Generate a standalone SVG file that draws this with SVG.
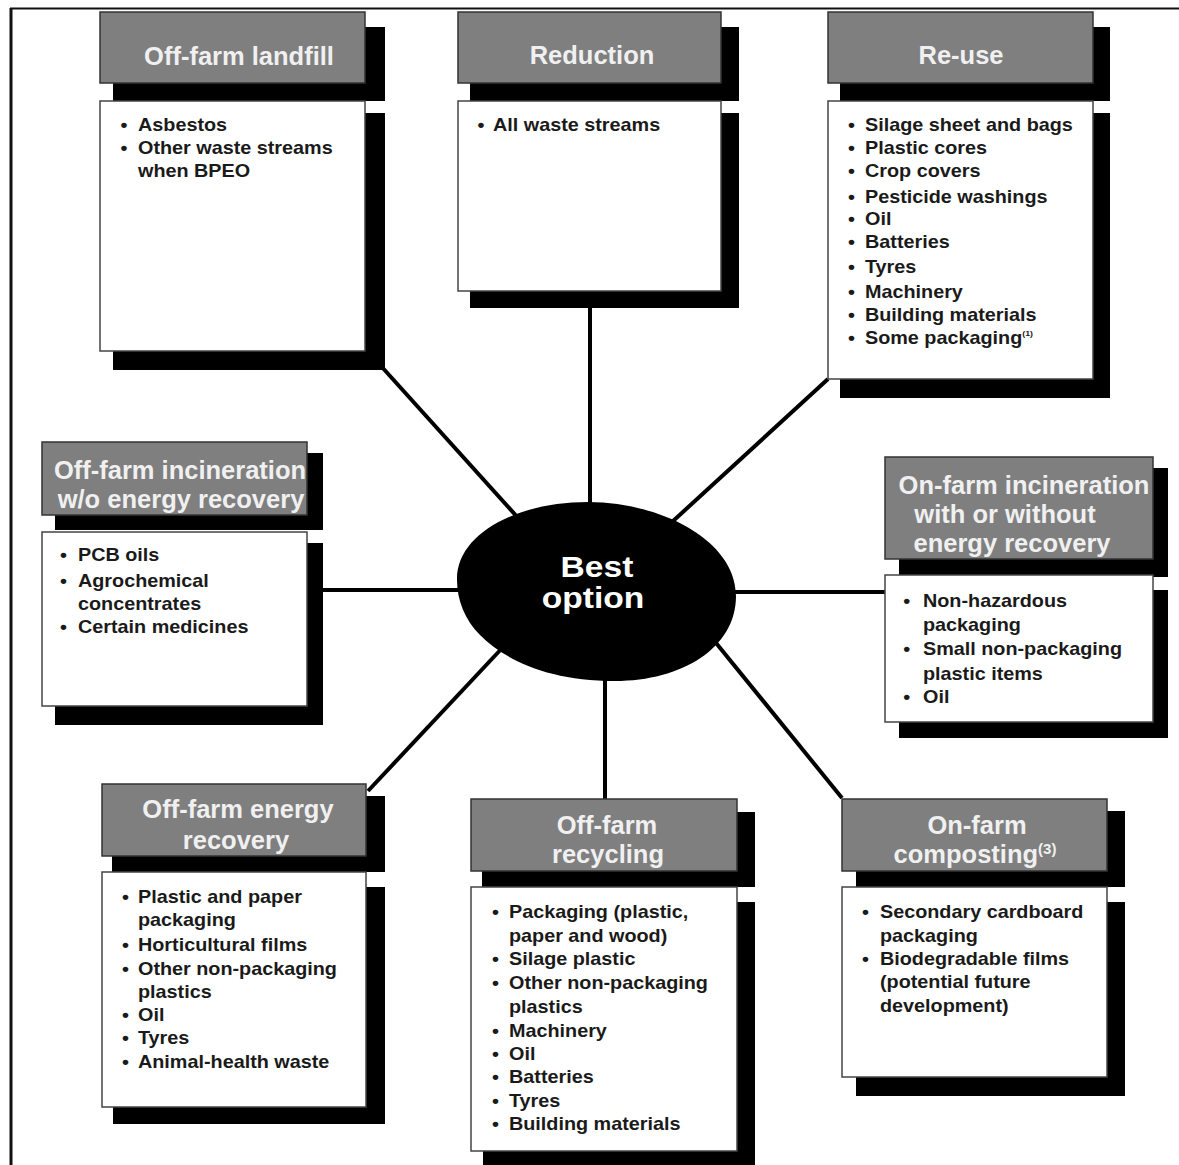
<svg xmlns="http://www.w3.org/2000/svg" width="1179" height="1165" viewBox="0 0 1179 1165">
<style>
.sh{fill:#000}
.hd{fill:#7f7f7f;stroke:#333;stroke-width:1.5}
.bd{fill:#fff;stroke:#444;stroke-width:1.5}
.ht{font-family:"Liberation Sans",Arial,sans-serif;font-weight:bold;font-size:25.5px;fill:#f0f0f0;text-anchor:middle}
.bt{font-family:"Liberation Sans",Arial,sans-serif;font-weight:bold;font-size:18px;fill:#1a1a1a}
.cn{stroke:#000;stroke-width:4;fill:none}
.fr{stroke:#111;fill:none}
</style>
<rect width="1179" height="1165" fill="#fff"/>
<g id="frame">
<line class="fr" x1="10" y1="8.5" x2="1179" y2="8.5" stroke-width="2"/>
<line class="fr" x1="11" y1="8" x2="11" y2="1165" stroke-width="3"/>
</g>
<g id="connectors">
<line class="cn" x1="381" y1="366" x2="520" y2="520"/>
<line class="cn" x1="590" y1="306" x2="590" y2="510"/>
<line class="cn" x1="828" y1="379" x2="672" y2="522"/>
<line class="cn" x1="323" y1="590" x2="462" y2="590"/>
<line class="cn" x1="730" y1="592" x2="885" y2="592"/>
<line class="cn" x1="505" y1="645" x2="368" y2="791"/>
<line class="cn" x1="605" y1="670" x2="605" y2="799"/>
<line class="cn" x1="712" y1="638" x2="842" y2="798"/>
</g>
<g id="landfill">
<rect class="sh" x="113" y="27" width="272" height="74"/>
<rect class="sh" x="113" y="113" width="272" height="257"/>
<rect class="hd" x="100" y="12" width="265" height="71"/>
<rect class="bd" x="100" y="101" width="265" height="250"/>
<text class="ht" x="239" y="65">Off-farm landfill</text>
<g class="bt" transform="translate(138 0) scale(1.1 1)">
<text x="-16" y="131">•</text><text x="0" y="131">Asbestos</text>
<text x="-16" y="154">•</text><text x="0" y="154">Other waste streams</text>
<text x="0" y="177">when BPEO</text>
</g>
</g>
<g id="reduction">
<rect class="sh" x="470" y="27" width="269" height="74"/>
<rect class="sh" x="470" y="113" width="269" height="195"/>
<rect class="hd" x="458" y="12" width="263" height="71"/>
<rect class="bd" x="458" y="101" width="263" height="190"/>
<text class="ht" x="592" y="64">Reduction</text>
<g class="bt" transform="translate(493 0) scale(1.1 1)">
<text x="-14" y="131">•</text><text x="0" y="131">All waste streams</text>
</g>
</g>
<g id="reuse">
<rect class="sh" x="840" y="27" width="270" height="74"/>
<rect class="sh" x="840" y="113" width="270" height="285"/>
<rect class="hd" x="828" y="12" width="265" height="71"/>
<rect class="bd" x="828" y="101" width="265" height="278"/>
<text class="ht" x="961" y="64">Re-use</text>
<g class="bt" transform="translate(865 0) scale(1.1 1)">
<text x="-15.5" y="131">•</text><text x="0" y="131">Silage sheet and bags</text>
<text x="-15.5" y="154">•</text><text x="0" y="154">Plastic cores</text>
<text x="-15.5" y="177">•</text><text x="0" y="177">Crop covers</text>
<text x="-15.5" y="203">•</text><text x="0" y="203">Pesticide washings</text>
<text x="-15.5" y="225">•</text><text x="0" y="225">Oil</text>
<text x="-15.5" y="248">•</text><text x="0" y="248">Batteries</text>
<text x="-15.5" y="273">•</text><text x="0" y="273">Tyres</text>
<text x="-15.5" y="298">•</text><text x="0" y="298">Machinery</text>
<text x="-15.5" y="321">•</text><text x="0" y="321">Building materials</text>
<text x="-15.5" y="344">•</text><text x="0" y="344">Some packaging<tspan font-size="8" dy="-8">(1)</tspan></text>
</g>
</g>
<g id="offfarm-incineration">
<rect class="sh" x="55" y="453" width="268" height="77"/>
<rect class="sh" x="55" y="543" width="268" height="182"/>
<rect class="hd" x="42" y="442" width="265" height="73"/>
<rect class="bd" x="42" y="532" width="265" height="174"/>
<text class="ht" x="180" y="479">Off-farm incineration</text>
<text class="ht" x="181" y="508">w/o energy recovery</text>
<g class="bt" transform="translate(78 0) scale(1.1 1)">
<text x="-16.4" y="561">•</text><text x="0" y="561">PCB oils</text>
<text x="-16.4" y="587">•</text><text x="0" y="587">Agrochemical</text>
<text x="0" y="610">concentrates</text>
<text x="-16.4" y="633">•</text><text x="0" y="633">Certain medicines</text>
</g>
</g>
<g id="onfarm-incineration">
<rect class="sh" x="899" y="468" width="269" height="109"/>
<rect class="sh" x="899" y="590" width="269" height="148"/>
<rect class="hd" x="885" y="457" width="268" height="102"/>
<rect class="bd" x="885" y="575" width="268" height="147"/>
<text class="ht" x="1024" y="494">On-farm incineration</text>
<text class="ht" x="1005" y="523">with or without</text>
<text class="ht" x="1012" y="552">energy recovery</text>
<g class="bt" transform="translate(923 0) scale(1.1 1)">
<text x="-18" y="607">•</text><text x="0" y="607">Non-hazardous</text>
<text x="0" y="631">packaging</text>
<text x="-18" y="655">•</text><text x="0" y="655">Small non-packaging</text>
<text x="0" y="680">plastic items</text>
<text x="-18" y="703">•</text><text x="0" y="703">Oil</text>
</g>
</g>
<g id="energy-recovery">
<rect class="sh" x="112" y="796" width="273" height="76"/>
<rect class="sh" x="113" y="887" width="272" height="237"/>
<rect class="hd" x="102" y="784" width="264" height="72"/>
<rect class="bd" x="102" y="872" width="264" height="235"/>
<text class="ht" x="238" y="818">Off-farm energy</text>
<text class="ht" x="236" y="849">recovery</text>
<g class="bt" transform="translate(138 0) scale(1.1 1)">
<text x="-14.5" y="903">•</text><text x="0" y="903">Plastic and paper</text>
<text x="0" y="926">packaging</text>
<text x="-14.5" y="951">•</text><text x="0" y="951">Horticultural films</text>
<text x="-14.5" y="975">•</text><text x="0" y="975">Other non-packaging</text>
<text x="0" y="998">plastics</text>
<text x="-14.5" y="1021">•</text><text x="0" y="1021">Oil</text>
<text x="-14.5" y="1044">•</text><text x="0" y="1044">Tyres</text>
<text x="-14.5" y="1068">•</text><text x="0" y="1068">Animal-health waste</text>
</g>
</g>
<g id="recycling">
<rect class="sh" x="482" y="812" width="273" height="75"/>
<rect class="sh" x="483" y="902" width="272" height="270"/>
<rect class="hd" x="471" y="799" width="266" height="72"/>
<rect class="bd" x="471" y="887" width="266" height="264"/>
<text class="ht" x="607" y="834">Off-farm</text>
<text class="ht" x="608" y="863">recycling</text>
<g class="bt" transform="translate(509 0) scale(1.1 1)">
<text x="-15.5" y="918">•</text><text x="0" y="918">Packaging (plastic,</text>
<text x="0" y="942">paper and wood)</text>
<text x="-15.5" y="965">•</text><text x="0" y="965">Silage plastic</text>
<text x="-15.5" y="989">•</text><text x="0" y="989">Other non-packaging</text>
<text x="0" y="1013">plastics</text>
<text x="-15.5" y="1037">•</text><text x="0" y="1037">Machinery</text>
<text x="-15.5" y="1060">•</text><text x="0" y="1060">Oil</text>
<text x="-15.5" y="1083">•</text><text x="0" y="1083">Batteries</text>
<text x="-15.5" y="1107">•</text><text x="0" y="1107">Tyres</text>
<text x="-15.5" y="1130">•</text><text x="0" y="1130">Building materials</text>
</g>
</g>
<g id="composting">
<rect class="sh" x="856" y="811" width="269" height="76"/>
<rect class="sh" x="856" y="902" width="269" height="194"/>
<rect class="hd" x="842" y="799" width="265" height="72"/>
<rect class="bd" x="842" y="887" width="265" height="190"/>
<text class="ht" x="977" y="834">On-farm</text>
<text class="ht" x="975" y="863">composting<tspan font-size="15" dy="-9">(3)</tspan></text>
<g class="bt" transform="translate(880 0) scale(1.1 1)">
<text x="-16.4" y="918">•</text><text x="0" y="918">Secondary cardboard</text>
<text x="0" y="942">packaging</text>
<text x="-16.4" y="965">•</text><text x="0" y="965">Biodegradable films</text>
<text x="0" y="988">(potential future</text>
<text x="0" y="1012">development)</text>
</g>
</g>
<g id="best-option">
<path d="M457,580 C456,535 515,502 588,502 C660,502 736,540 736,596 C736,648 682,681 615,681 C548,681 505,660 480,635 C465,620 457,600 457,580 Z" fill="#000"/>
<g transform="translate(597 0) scale(1.12 1)">
<text x="0" y="577" style="font-family:'Liberation Sans',Arial,sans-serif;font-weight:bold;font-size:30px;fill:#fff;text-anchor:middle">Best</text>
<text x="-3.5" y="608" style="font-family:'Liberation Sans',Arial,sans-serif;font-weight:bold;font-size:30px;fill:#fff;text-anchor:middle">option</text>
</g>
</g>
</svg>
